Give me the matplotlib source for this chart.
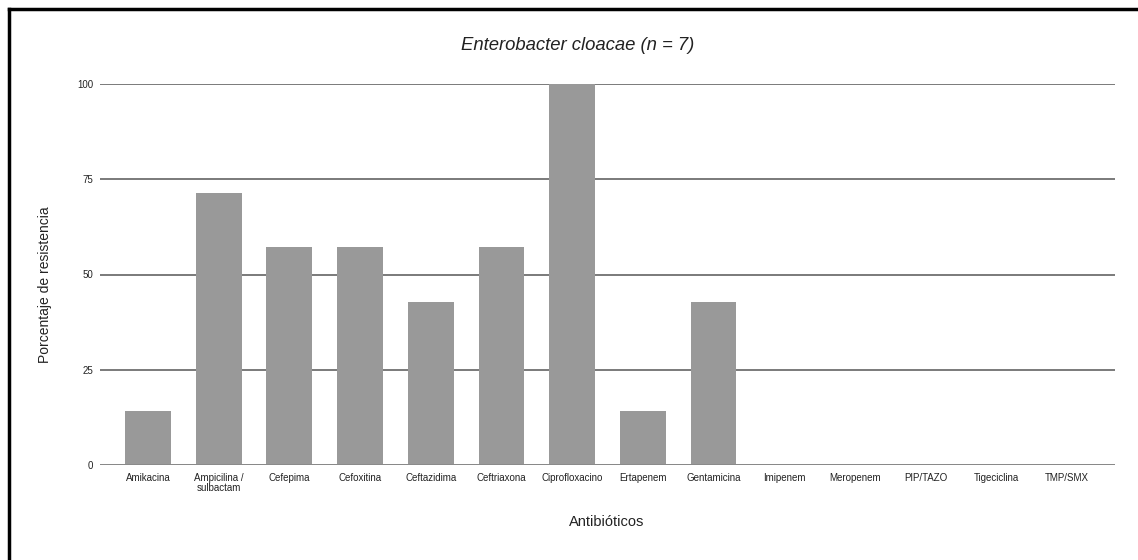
import matplotlib
matplotlib.use("Agg")
import matplotlib.pyplot as plt
from matplotlib.lines import Line2D

antibioticos = [
    "Amikacina", "Ampicilina /\nsulbactam", "Cefepima", "Cefoxitina",
    "Ceftazidima", "Ceftriaxona", "Ciprofloxacino", "Ertapenem",
    "Gentamicina", "Imipenem", "Meropenem", "PIP/TAZO", "Tigeciclina", "TMP/SMX",
]
resistencia = [14.29, 71.43, 57.14, 57.14, 42.86, 57.14, 100.0, 14.29,
               42.86, 0, 0, 0, 0, 0]
yticks = [0, 25, 50, 75, 100]

plt.rcParams["font.family"] = ["Liberation Sans", "DejaVu Sans"]

W, H = 1138, 560
fig = plt.figure(figsize=(W / 100, H / 100), dpi=100)
ax = fig.add_axes([100 / W, 1 - 465 / H, 1015 / W, 381 / H])

x = range(len(antibioticos))
ax.bar(x, resistencia, width=0.65, color="#999999", zorder=3)
ax.set_xlim(-0.68, len(antibioticos) - 1 + 0.68)
ax.set_ylim(0, 100)
ax.set_yticks(yticks)
ax.set_yticklabels([str(t) for t in yticks], fontsize=7, color="#222222")
ax.set_xticks(list(x))
ax.set_xticklabels(antibioticos, fontsize=7, color="#222222", linespacing=1.0)
ax.tick_params(axis="y", length=0, pad=5)
ax.tick_params(axis="x", length=0, pad=6)
ax.yaxis.grid(True, color="#7a7a7a", linewidth=1.4, zorder=0)
ax.set_axisbelow(True)
for s in ax.spines.values():
    s.set_visible(False)
ax.axhline(0, color="#8a8a8a", linewidth=1.4, zorder=4)

fig.text(578 / W, 1 - 46 / H, "Enterobacter cloacae (n = 7)", fontsize=13.3,
         style="italic", color="#222222", ha="center", va="center")
fig.text(607 / W, 1 - 522 / H, "Antibióticos", fontsize=10.5,
         color="#222222", ha="center", va="center")
fig.text(45 / W, 1 - 285 / H, "Porcentaje de resistencia", fontsize=10,
         color="#222222", ha="center", va="center", rotation=90)

# outer frame (top and left edges visible in the reference)
fig.add_artist(Line2D([8.5 / W, 1.0], [1 - 8.5 / H, 1 - 8.5 / H],
                      transform=fig.transFigure, color="black", linewidth=2.5))
fig.add_artist(Line2D([8.5 / W, 8.5 / W], [0, 1 - 8.5 / H],
                      transform=fig.transFigure, color="black", linewidth=2.5))

fig.savefig("out.png", dpi=100)
